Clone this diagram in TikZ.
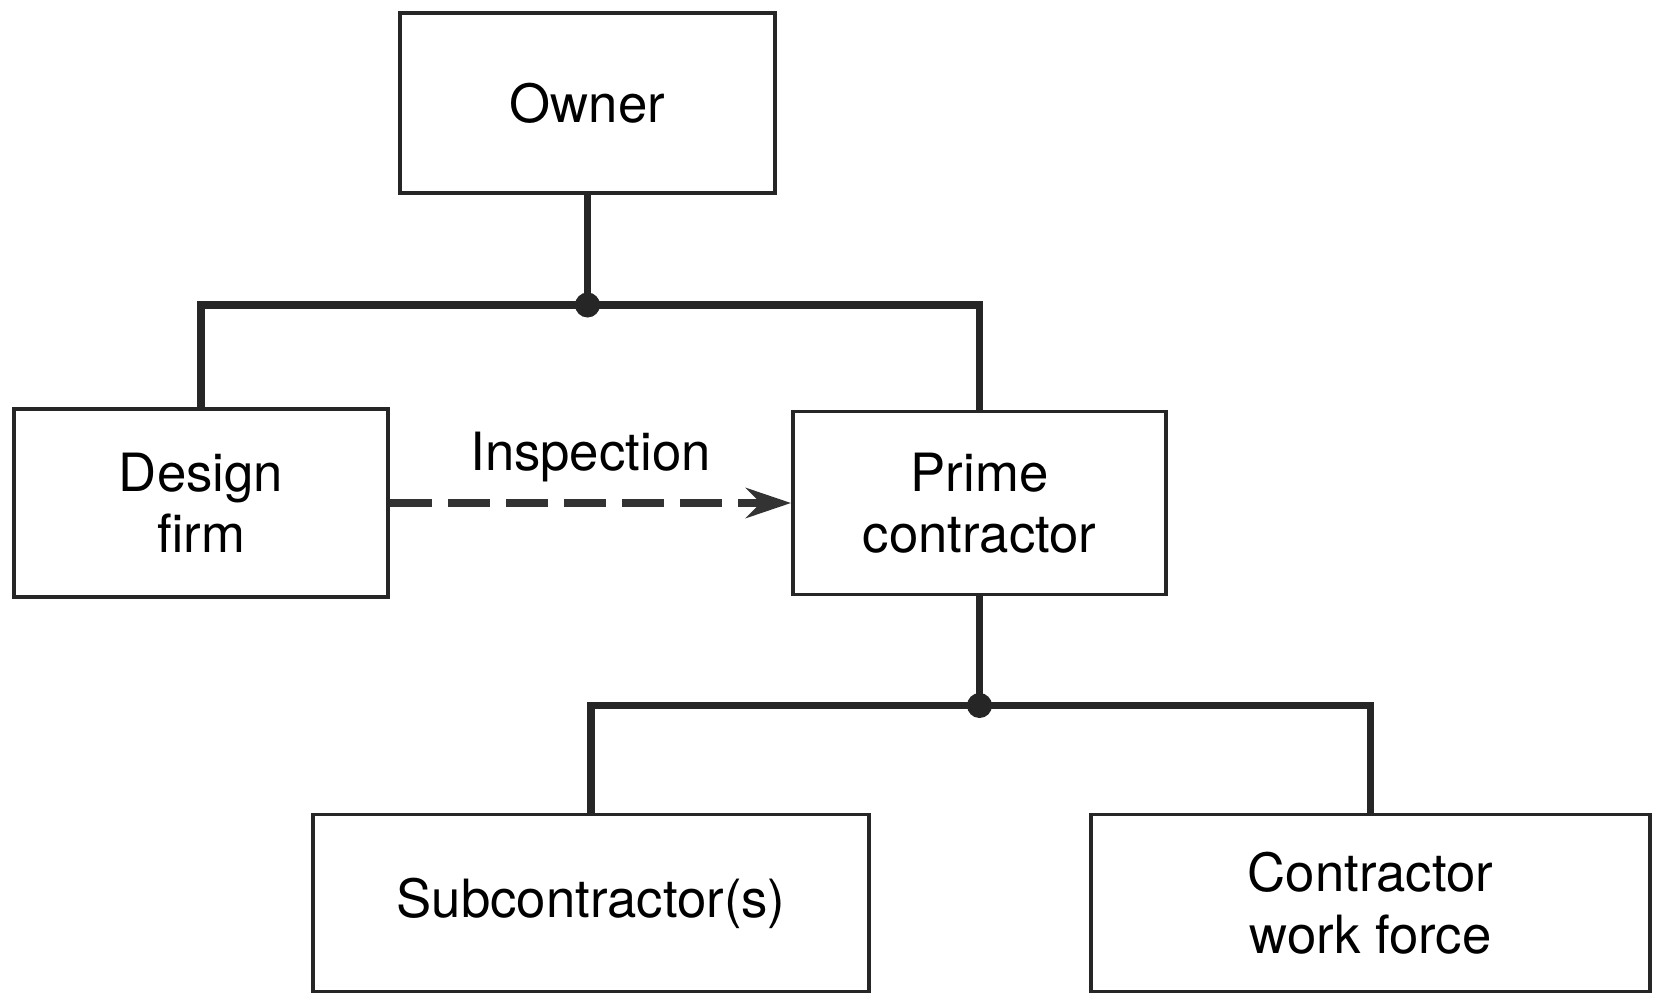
\documentclass[tikz,border=0pt]{standalone}
\usepackage{fontspec}
\setmainfont{TeX Gyre Heros}
\usetikzlibrary{arrows.meta, positioning}
\tikzstyle{unit} = [
rectangle, draw=black!85, line width=2.2pt, align=center,
text centered, text=black, font=\fontsize{30}{35}\selectfont
]
\tikzstyle{junction} = [circle, fill=black!85, inner sep=0pt, minimum size=0.5cm]
\tikzstyle{link} = [line width=4pt, draw=black!85, line join=miter]
\tikzstyle{inspect} = [line width=4.5pt, draw=black!80, dash pattern=on 24pt off 9pt, -{Stealth[length=0.9cm, width=0.6cm]}]
\tikzstyle{lbl} = [text=black, inner sep=0pt, font=\fontsize{30}{35}\selectfont]

\begin{document}
\begin{tikzpicture}[node distance=8cm]
			\useasboundingbox (0,0) rectangle (33.22,-19.92);

			% Caixas
			\node (Owner) [unit, minimum width=7.5cm, minimum height=3.6cm] at (11.75,-2.06) {Owner};
			\node (Design) [unit, below of=Owner, xshift=-7.73cm, minimum width=7.48cm, minimum height=3.76cm] {Design\\firm};
			\node (Prime) [unit, below of=Owner, xshift=7.84cm, minimum width=7.46cm, minimum height=3.66cm] {Prime\\contractor};
			\node (Sub) [unit, below of=Prime, xshift=-7.77cm, minimum width=11.12cm, minimum height=3.54cm] {Subcontractor(s)};
			\node (Workforce) [unit, below of=Prime, xshift=7.82cm, minimum width=11.18cm, minimum height=3.54cm] {Contractor\\work force};

			% Pontos de ramificacao
			\node (J_1) [junction, below of=Owner, node distance=4.04cm] {};
			\node (J_2) [junction, below of=Prime, node distance=4.05cm] {};

			% Connections
			\draw [link] (Owner) -- (J_1.center);
			\draw [link] (Design) |- (J_1.center) -| (Prime);
			\draw [link] (Prime) -- (J_2.center);
			\draw [link] (Sub) |- (J_2.center) -| (Workforce);

			% Inspecao
			\draw [inspect] (Design) -- node[lbl, above=0.34cm] {Inspection} (Prime);

		\end{tikzpicture}
\end{document}
